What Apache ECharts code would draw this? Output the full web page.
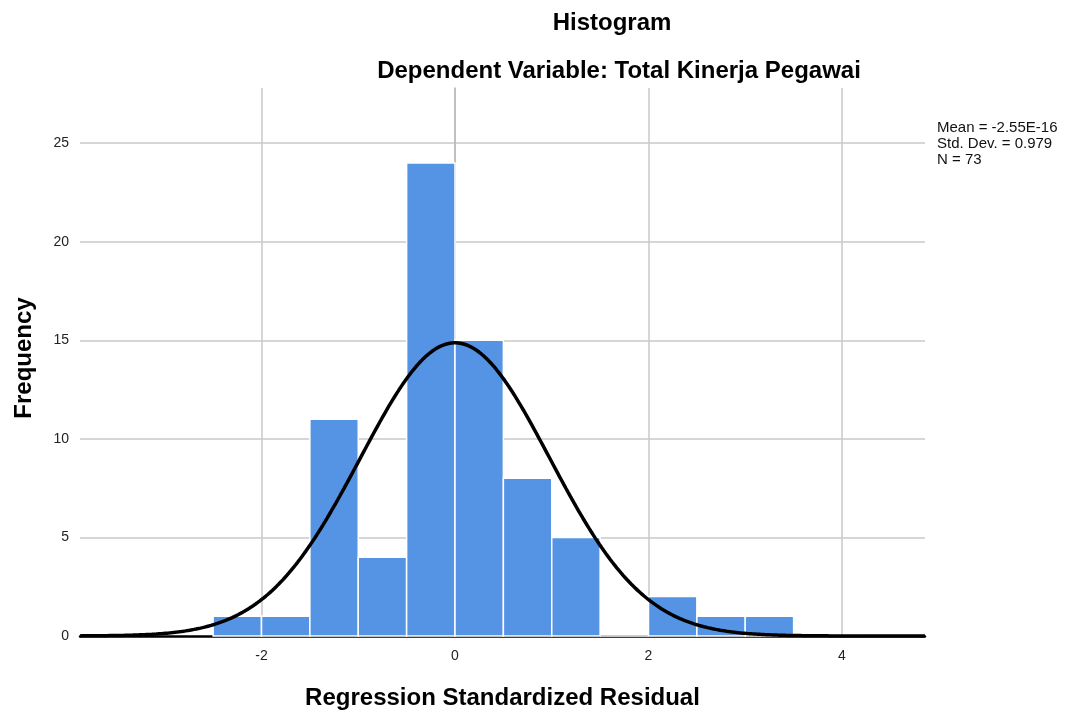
<!DOCTYPE html>
<html>
<head>
<meta charset="utf-8">
<script src="https://cdn.jsdelivr.net/npm/echarts@6/dist/echarts.min.js"></script>
<style>html,body{margin:0;padding:0;background:#fff}#c{width:1070px;height:713px}</style>
</head>
<body>
<div id="c"></div>
<script>
// Histogram bins (lower edges) and frequencies
const binStarts = [-2.5, -2.0, -1.5, -1.0, -0.5, 0.0, 0.5, 1.0, 1.5, 2.0, 2.5, 3.0];
const frequencies = [1, 1, 11, 4, 24, 15, 8, 5, 0, 2, 1, 1];
const BIN_WIDTH = 0.5;
// Stats printed on the chart (used for the fitted normal curve, as SPSS does)
const MEAN = -2.55e-16;
const SD = 0.979;
const N = 73;
const xTicks = [-2, 0, 2, 4];
const yTicks = [0, 5, 10, 15, 20, 25];
const statsLines = ['Mean = -2.55E-16', 'Std. Dev. = 0.979', 'N = 73'];

const X_MIN = -3.876, X_MAX = 4.858, Y_MAX = 27.8;

const bars = binStarts.map((s, i) => [s, s + BIN_WIDTH, frequencies[i]]);
const curve = [];
for (let i = 0; i <= 400; i++) {
  const x = X_MIN + (X_MAX - X_MIN) * i / 400;
  const z = (x - MEAN) / SD;
  curve.push([x, N * BIN_WIDTH * Math.exp(-0.5 * z * z) / (SD * Math.sqrt(2 * Math.PI))]);
}

const chart = echarts.init(document.getElementById('c'));
const font = '"Liberation Sans", Arial, sans-serif';
chart.setOption({
  animation: false,
  title: [
    {text: 'Histogram', left: 607, top: 6, textAlign: 'center',
     textStyle: {fontFamily: font, fontSize: 24, fontWeight: 'bold', color: '#000'}},
    {text: 'Dependent Variable: Total Kinerja Pegawai', left: 614, top: 54, textAlign: 'center',
     textStyle: {fontFamily: font, fontSize: 24, fontWeight: 'bold', color: '#000'}}
  ],
  graphic: [{
    type: 'text', left: 937, top: 120,
    style: {text: statsLines.join('\n'), font: '15px ' + font, fill: '#111', lineHeight: 16}
  }],
  grid: {left: 80, right: 145, top: 88, bottom: 77, outerBoundsMode: 'none', containLabel: false},
  xAxis: {
    type: 'value', min: X_MIN, max: X_MAX,
    name: 'Regression Standardized Residual', nameLocation: 'middle', nameGap: 50,
    nameTextStyle: {fontFamily: font, fontSize: 24, fontWeight: 'bold', color: '#000'},
    axisLine: {show: true, onZero: false, lineStyle: {color: '#000', width: 2.5}},
    axisTick: {show: false, customValues: xTicks},
    splitLine: {show: true, showMinLine: true, showMaxLine: true, lineStyle: {color: '#c8c8c8', width: 1.5}},
    axisLabel: {customValues: xTicks, fontFamily: font, fontSize: 14, color: '#222', margin: 13}
  },
  yAxis: {
    type: 'value', min: 0, max: Y_MAX,
    name: 'Frequency', nameLocation: 'middle', nameGap: 44,
    nameTextStyle: {fontFamily: font, fontSize: 24, fontWeight: 'bold', color: '#000', padding: [0, 0, 0, 8]},
    axisLine: {show: true, lineStyle: {color: '#b8b8b8', width: 1.5}},
    axisTick: {show: false, customValues: yTicks},
    splitLine: {show: true, showMinLine: false, showMaxLine: true, lineStyle: {color: '#c8c8c8', width: 1.5}},
    axisLabel: {customValues: yTicks, fontFamily: font, fontSize: 14, color: '#222', margin: 11}
  },
  series: [
    {
      type: 'custom', z: 2,
      data: bars,
      renderItem: function (params, api) {
        const p0 = api.coord([api.value(0), 0]);
        const p1 = api.coord([api.value(1), api.value(2)]);
        return {
          type: 'rect',
          shape: {x: p0[0], y: p1[1], width: p1[0] - p0[0], height: p0[1] - p1[1]},
          style: {fill: '#5594e4', stroke: '#ffffff', lineWidth: 1.5}
        };
      },
      encode: {x: [0, 1], y: 2}
    },
    {
      type: 'line', data: curve, showSymbol: false, smooth: false, z: 3,
      lineStyle: {color: '#000', width: 3.5}
    }
  ]
});
</script>
</body>
</html>
